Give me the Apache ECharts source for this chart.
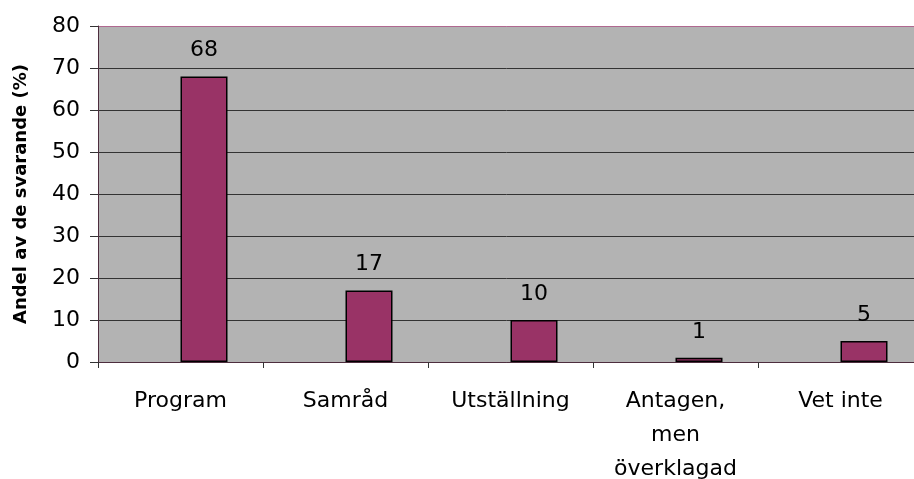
<!DOCTYPE html>
<html lang="sv">
<head>
    <meta charset="UTF-8">
    <title>Andel av de svarande</title>
    <script src="https://cdn.jsdelivr.net/npm/echarts@6/dist/echarts.min.js"></script>
    <style>
        html, body {
            margin: 0;
            padding: 0;
            width: 100%;
            height: 100%;
            background: #fff;
            overflow: hidden;
        }
        #chart {
            width: 914px;
            height: 479px;
        }
    </style>
</head>
<body>
<div id="chart"></div>
<script>
    // Chart data
    var categories = ['Program', 'Samråd', 'Utställning', 'Antagen,\nmen\növerklagad', 'Vet inte'];
    var values = [68, 17, 10, 1, 5];
    var emptySeries = [null, null, null, null, null];   // hidden first series (bars sit right of centre)
    var yTicks = { min: 0, max: 80, interval: 10 };

    var FONT = 'DejaVu Sans, sans-serif';

    var chart = echarts.init(document.getElementById('chart'));

    var option = {
        backgroundColor: '#fff',
        animation: false,
        grid: {
            left: 98,
            top: 26,
            right: -9,
            bottom: 117,
            outerBoundsMode: 'none',
            show: true,
            backgroundColor: '#b3b3b3',
            borderWidth: 0
        },
        xAxis: {
            type: 'category',
            data: categories,
            axisLine: { lineStyle: { color: '#4d2d3d', width: 1 } },
            axisTick: { show: true, length: 6, lineStyle: { color: '#333' } },
            axisLabel: {
                color: '#000',
                fontFamily: FONT,
                fontSize: 22,
                lineHeight: 34,
                margin: 22,
                interval: 0
            }
        },
        yAxis: {
            type: 'value',
            min: yTicks.min,
            max: yTicks.max,
            interval: yTicks.interval,
            name: 'Andel av de svarande (%)',
            nameLocation: 'middle',
            nameGap: 68,
            nameTextStyle: {
                color: '#000',
                fontFamily: FONT,
                fontSize: 18,
                fontWeight: 'bold'
            },
            axisLine: { show: true, lineStyle: { color: '#4d2d3d', width: 1 } },
            axisTick: { show: true, length: 8, lineStyle: { color: '#333' } },
            axisLabel: {
                color: '#000',
                fontFamily: FONT,
                fontSize: 22,
                margin: 18
            },
            splitLine: {
                show: true,
                lineStyle: {
                    // last line (80) is the pinkish top border
                    color: ['#333', '#333', '#333', '#333', '#333', '#333', '#333', '#333', '#b06890'],
                    width: 1
                }
            }
        },
        series: [
            {
                type: 'bar',
                data: emptySeries,
                barWidth: 47,
                barGap: '0%'
            },
            {
                type: 'bar',
                data: values,
                barWidth: 47,
                barGap: '0%',
                itemStyle: {
                    color: '#993366',
                    borderColor: '#000',
                    borderWidth: 1.5
                },
                label: {
                    show: true,
                    position: 'top',
                    distance: 15,
                    color: '#000',
                    fontFamily: FONT,
                    fontSize: 22
                }
            }
        ]
    };

    chart.setOption(option);
</script>
</body>
</html>
